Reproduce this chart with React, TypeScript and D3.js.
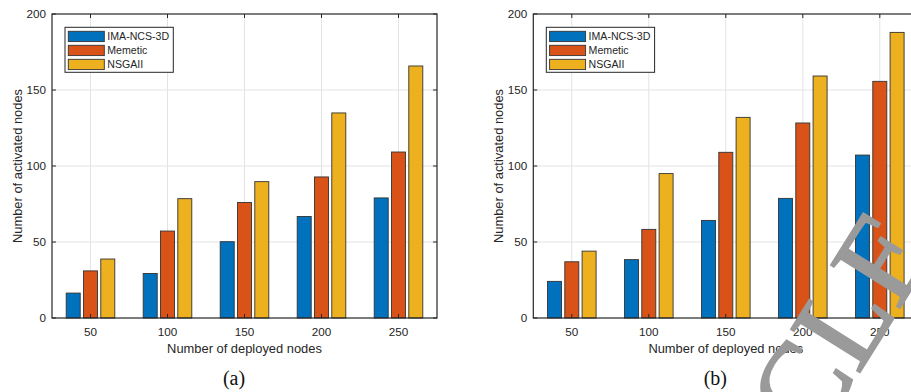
import React from "react";
import * as d3 from "d3";

const categories = ["50", "100", "150", "200", "250"];
const seriesNames = ["IMA-NCS-3D", "Memetic", "NSGAII"];
const seriesColors = ["#0072BD", "#D95319", "#EDB120"];

const aIma = [16.4, 29.3, 50.2, 66.8, 79];
const aMemetic = [31, 57.2, 76, 92.8, 109.2];
const aNsga = [38.8, 78.5, 89.7, 134.9, 165.8];

const bIma = [24.1, 38.4, 64.2, 78.7, 107.2];
const bMemetic = [37, 58.3, 109, 128.3, 155.7];
const bNsga = [44, 95, 132, 159.2, 187.9];

const yTicks = [0, 50, 100, 150, 200];
const xLabel = "Number of deployed nodes";
const yLabel = "Number of activated nodes";

const W = 911;
const H = 392;
const FONT = "'Liberation Sans', Arial, Helvetica, sans-serif";
const AX = "#262626";

type PanelProps = { left: number; series: number[][]; caption: string };

function Panel({ left, series, caption }: PanelProps) {
  const width = 385;
  const top = 14;
  const bottom = 318;
  const right = left + width;
  const x = d3.scaleBand<string>().domain(categories).range([left, right]).padding(0);
  const groupHalf = x.bandwidth() * 0.3156;
  const xs = d3
    .scaleBand<string>()
    .domain(seriesNames)
    .range([-groupHalf, groupHalf])
    .paddingInner(0.19)
    .paddingOuter(0);
  const y = d3.scaleLinear().domain([0, 200]).range([bottom, top]);
  const tickLen = 4;
  const cx = (c: string) => (x(c) as number) + x.bandwidth() / 2;
  return (
    <g>
      {categories.map((c) => (
        <line key={"gx" + c} x1={cx(c)} x2={cx(c)} y1={top} y2={bottom} stroke="#e3e3e3" strokeWidth={1} />
      ))}
      {yTicks.slice(1, -1).map((t) => (
        <line key={"gy" + t} x1={left} x2={right} y1={y(t)} y2={y(t)} stroke="#e3e3e3" strokeWidth={1} />
      ))}
      {categories.map((c, i) =>
        seriesNames.map((s, j) => {
          const v = series[j][i];
          return (
            <rect
              key={c + s}
              x={cx(c) + (xs(s) as number)}
              y={y(v)}
              width={xs.bandwidth()}
              height={y(0) - y(v)}
              fill={seriesColors[j]}
              stroke="#333333"
              strokeWidth={0.9}
            />
          );
        })
      )}
      <rect x={left} y={top} width={width} height={bottom - top} fill="none" stroke={AX} strokeWidth={1.2} />
      {categories.map((c) => (
        <g key={"tx" + c}>
          <line x1={cx(c)} x2={cx(c)} y1={bottom} y2={bottom - tickLen} stroke={AX} />
          <line x1={cx(c)} x2={cx(c)} y1={top} y2={top + tickLen} stroke={AX} />
          <text x={cx(c)} y={336} textAnchor="middle" fontSize={11.7} fill={AX} fontFamily={FONT}>
            {c}
          </text>
        </g>
      ))}
      {yTicks.map((t) => (
        <g key={"ty" + t}>
          <line x1={left} x2={left + tickLen} y1={y(t)} y2={y(t)} stroke={AX} />
          <line x1={right} x2={right - tickLen} y1={y(t)} y2={y(t)} stroke={AX} />
          <text x={left - 6} y={y(t) + 4} textAnchor="end" fontSize={11.7} fill={AX} fontFamily={FONT}>
            {t}
          </text>
        </g>
      ))}
      <text x={(left + right) / 2} y={352.5} textAnchor="middle" fontSize={12.9} fill={AX} fontFamily={FONT}>
        {xLabel}
      </text>
      <text
        transform={`translate(${left - 30.5},${(top + bottom) / 2}) rotate(-90)`}
        textAnchor="middle"
        fontSize={12.9}
        fill={AX}
        fontFamily={FONT}
      >
        {yLabel}
      </text>
      <rect x={left + 13} y={27.3} width={108.3} height={45} fill="#fff" stroke={AX} strokeWidth={1} />
      {seriesNames.map((s, j) => (
        <g key={"lg" + s}>
          <rect x={left + 16.3} y={31.3 + j * 14} width={36} height={10.3} fill={seriesColors[j]} stroke="#333333" strokeWidth={0.9} />
          <text x={left + 55.3} y={40 + j * 14} fontSize={10.6} fill={AX} fontFamily={FONT}>
            {s}
          </text>
        </g>
      ))}
      <text
        x={(left + right) / 2 - 10.5}
        y={384.5}
        textAnchor="middle"
        fontSize={20}
        fill="#111"
        fontFamily="'Liberation Serif', 'Times New Roman', serif"
      >
        {caption}
      </text>
    </g>
  );
}

export default function App() {
  return (
    <svg
      width={W}
      height={H}
      viewBox={`0 0 ${W} ${H}`}
      style={{ position: "absolute", left: 0, top: 0, background: "#fff" }}
    >
      <rect x={0} y={0} width={W} height={H} fill="#fff" />
      <Panel left={52} series={[aIma, aMemetic, aNsga]} caption="(a)" />
      <Panel left={533.3} series={[bIma, bMemetic, bNsga]} caption="(b)" />
      <text
        transform="translate(841,324) rotate(-58)"
        textAnchor="middle"
        dominantBaseline="central"
        fontSize={124}
        fill="#9a9a9a"
        stroke="#9a9a9a"
        strokeWidth={2}
        fontFamily="'Liberation Serif', 'Times New Roman', serif"
      >
        CLE
      </text>
    </svg>
  );
}
